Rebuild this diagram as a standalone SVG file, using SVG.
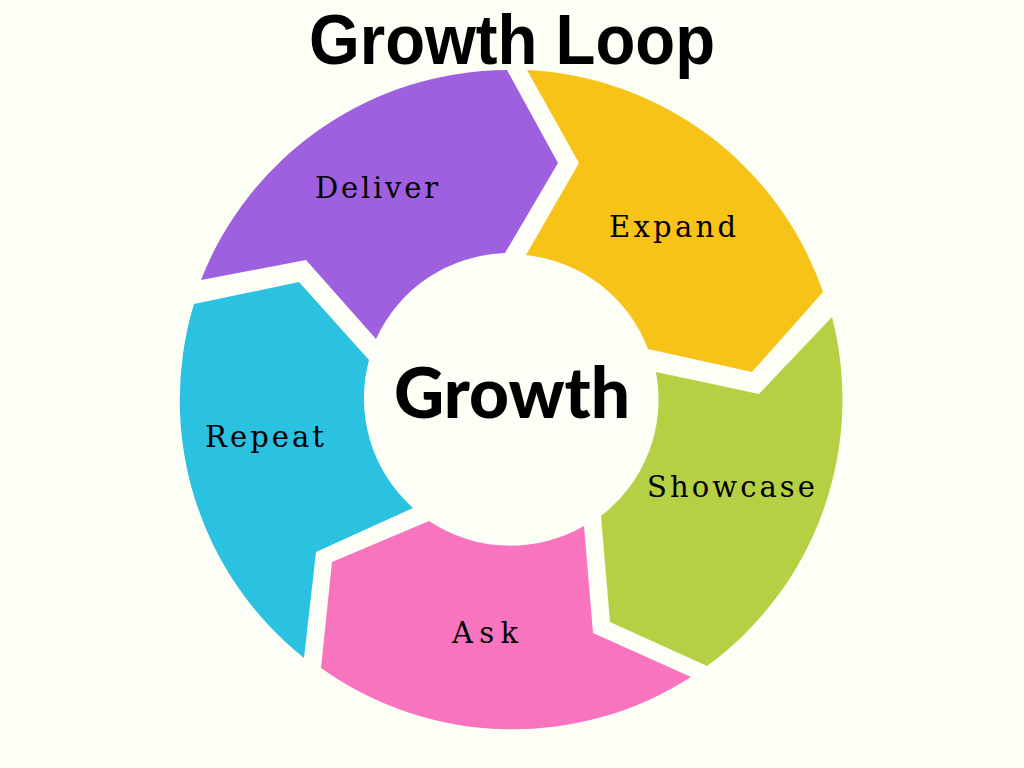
<svg xmlns="http://www.w3.org/2000/svg" width="1024" height="768" viewBox="0 0 1024 768">
  <style>
    .title { font-family: "Liberation Sans", "Arial", sans-serif; font-weight: 700; fill: #000; }
    .center { font-family: "Lato", "Inter", "Liberation Sans", sans-serif; font-weight: 900; fill: #000; }
    .label { font-family: "DejaVu Serif", "Liberation Serif", serif; font-size: 29px; fill: #000; }
    .seg { stroke: none; }
  </style>
  <rect x="0" y="0" width="1024" height="768" fill="#FDFEF5"/>
  <text class="title" x="512" y="64" font-size="70" text-anchor="middle" textLength="406" lengthAdjust="spacingAndGlyphs">Growth Loop</text>

  <g id="connectors"></g>

  <g id="node-deliver">
    <path class="seg" fill="#9F60E0" d="M 201,280 A 330 330 0 0 1 507,70 L 558,163 L 505,253 A 147 147 0 0 0 376,339 L 306,260 Z"/>
    <text class="label" x="376.5" y="198" text-anchor="middle" textLength="123">Deliver</text>
  </g>
  <g id="node-expand">
    <path class="seg" fill="#F8C318" d="M 527,70 A 330 330 0 0 1 823,292 L 752,372 L 648,349 A 147 147 0 0 0 526,255 L 579,163 Z"/>
    <text class="label" x="672.5" y="237" text-anchor="middle" textLength="127">Expand</text>
  </g>
  <g id="node-showcase">
    <path class="seg" fill="#B5D143" d="M 832,317 A 330 330 0 0 1 707,666 L 610,622 L 601,516 A 147 147 0 0 0 656,372 L 759,394 Z"/>
    <text class="label" x="731" y="497" text-anchor="middle" textLength="168">Showcase</text>
  </g>
  <g id="node-ask">
    <path class="seg" fill="#F974BE" d="M 691,677 A 330 330 0 0 1 321,668 L 332,562 L 429,521 A 147 147 0 0 0 584,526 L 593,633 Z"/>
    <text class="label" x="485" y="643" text-anchor="middle" textLength="66">Ask</text>
  </g>
  <g id="node-repeat">
    <path class="seg" fill="#2BC1E0" d="M 304,658 A 330 330 0 0 1 194,304 L 299,282 L 369,360 A 147 147 0 0 0 413,508 L 316,552 Z"/>
    <text class="label" x="264.5" y="447" text-anchor="middle" textLength="119">Repeat</text>
  </g>
  <g id="node-center">
    <text class="center" x="512" y="418" font-size="70" text-anchor="middle" textLength="236" lengthAdjust="spacingAndGlyphs">Growth</text>
  </g>
</svg>
